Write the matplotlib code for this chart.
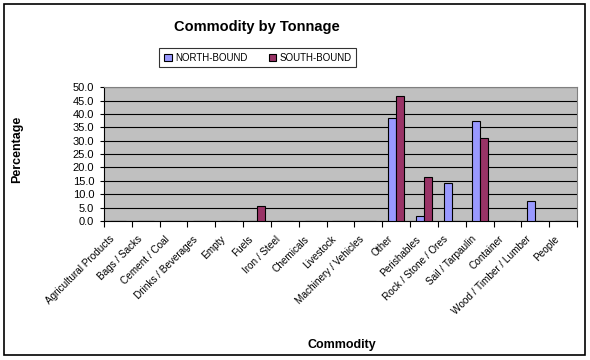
import numpy as np
import matplotlib.pyplot as plt
from matplotlib.patches import Rectangle
from matplotlib.transforms import ScaledTranslation

plt.rcParams['font.family'] = ['Liberation Sans', 'DejaVu Sans']

# Chart data
categories = ["Agricultural Products", "Bags / Sacks", "Cement / Coal", "Drinks / Beverages",
              "Empty", "Fuels", "Iron / Steel", "Chemicals", "Livestock", "Machinery / Vehicles",
              "Other", "Perishables", "Rock / Stone / Ores", "Sail / Tarpaulin", "Container",
              "Wood / Timber / Lumber", "People"]
north_bound = [0, 0, 0, 0, 0, 0, 0, 0, 0, 0, 38.3, 1.9, 14.1, 37.3, 0, 7.4, 0]
south_bound = [0, 0, 0, 0, 0, 5.6, 0, 0, 0, 0, 46.7, 16.3, 0, 30.9, 0, 0, 0]
y_ticks = [0, 5, 10, 15, 20, 25, 30, 35, 40, 45, 50]

fig = plt.figure(figsize=(5.9, 3.6), dpi=100)
fig.patch.set_facecolor("white")
# outer chart border
fig.patches.append(Rectangle((0.006, 0.014), 0.986, 0.974, transform=fig.transFigure,
                             fill=False, edgecolor="black", linewidth=1.2))

ax = fig.add_axes([0.176, 0.386, 0.802, 0.372])
ax.set_facecolor("#C0C0C0")

x = np.arange(len(categories))
w = 0.29
ax.bar(x - w / 2, north_bound, w, color="#9999FF", edgecolor="black", linewidth=0.8,
       label="NORTH-BOUND", zorder=3)
ax.bar(x + w / 2, south_bound, w, color="#993366", edgecolor="black", linewidth=0.8,
       label="SOUTH-BOUND", zorder=3)

ax.set_xlim(-0.5, len(categories) - 0.5)
ax.set_ylim(0, 50)
ax.set_yticks(y_ticks)
ax.set_yticklabels([f"{v:.1f}" for v in y_ticks], fontsize=8)
ax.yaxis.grid(True, color="black", linewidth=0.8, zorder=1)
ax.set_axisbelow(True)

# ticks at category boundaries, labels at centers
ax.set_xticks(np.arange(len(categories) + 1) - 0.5)
ax.set_xticklabels([])
ax.set_xticks(x, minor=True)
ax.set_xticklabels(categories, minor=True, rotation=45, ha="right", va="top",
                   rotation_mode="anchor", fontsize=7.2)
ax.tick_params(axis="x", which="minor", length=0, pad=8)
ax.tick_params(axis="x", which="major", length=4, direction="out")
ax.tick_params(axis="y", length=3, direction="out", pad=4)

shift = ScaledTranslation(-9 / 100, -2 / 100, fig.dpi_scale_trans)
for lbl in ax.get_xticklabels(minor=True):
    lbl.set_transform(lbl.get_transform() + shift)

for side in ["top", "right"]:
    ax.spines[side].set_color("#808080")
ax.spines["left"].set_color("black")
ax.spines["bottom"].set_color("black")

fig.text(0.436, 0.925, "Commodity by Tonnage", ha="center", va="center",
         fontsize=10.5, fontweight="bold")
fig.text(0.029, 0.585, "Percentage", rotation=90, ha="center", va="center",
         fontsize=9, fontweight="bold")
fig.text(0.58, 0.042, "Commodity", ha="center", va="center",
         fontsize=9, fontweight="bold")

leg = fig.legend(loc="center", bbox_to_anchor=(0.437, 0.84), ncol=2, fontsize=7,
                 frameon=True, fancybox=False, edgecolor="black", handlelength=0.8,
                 handleheight=0.8, columnspacing=2.2, handletextpad=0.3,
                 borderpad=0.5)
leg.get_frame().set_linewidth(0.8)

fig.savefig("out.png", dpi=100)
